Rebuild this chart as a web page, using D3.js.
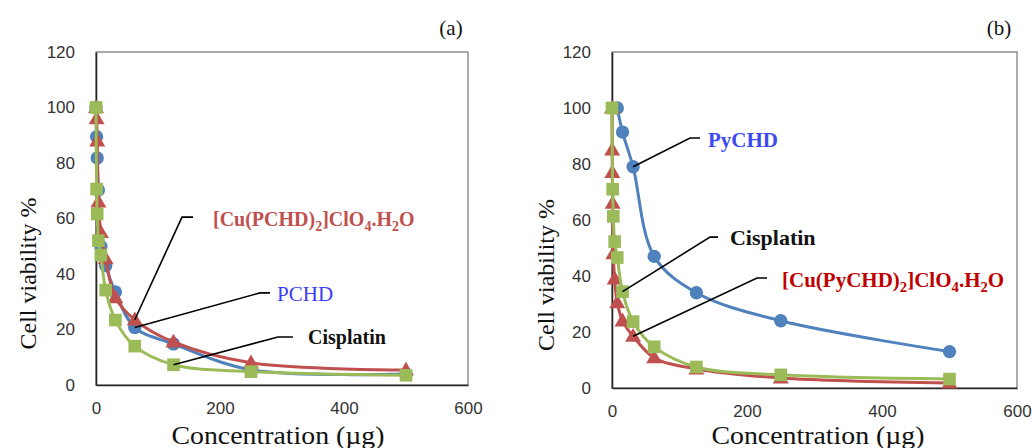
<!DOCTYPE html>
<html>
<head>
<meta charset="utf-8">
<script src="https://cdn.jsdelivr.net/npm/d3@7/dist/d3.min.js"></script>
<style>
  html, body { margin: 0; padding: 0; background: #fff; }
  svg { display: block; }
</style>
</head>
<body>
<svg id="chart" width="1033" height="448"></svg>
<script>
// ---------- DATA ----------
const xTicks = [0, 200, 400, 600];
const yTicks = [0, 20, 40, 60, 80, 100, 120];

// Panel (a)
const concA   = [0, 0.98, 1.95, 3.9, 7.8, 15.6, 31.25, 62.5, 125, 250, 500];
const pchd    = [100, 89.5, 81.8, 70.3, 50, 43, 33.5, 20.7, 14.8, 5.5, 4];
const cuPchd  = [100, 96, 88, 66, 55, 45.5, 31.5, 23.5, 15.5, 8, 5.4];
const cisA    = [100, 70.6, 61.6, 52, 46.8, 34.2, 23.4, 14, 7.3, 4.8, 3.5];

// Panel (b)
const concPy   = [7.8, 15.6, 31.25, 62.5, 125, 250, 500];
const pychd    = [100, 91.4, 79, 47, 34, 24, 13];
const concCuPy = [0, 0.24, 0.49, 0.98, 1.95, 3.9, 7.8, 15.6, 31.25, 62.5, 125, 250, 500];
const cuPy     = [100, 85, 77, 66, 48, 39, 30.5, 24, 18.5, 10.8, 6.8, 3.6, 1.8];
const concB    = [0, 0.98, 1.95, 3.9, 7.8, 15.6, 31.25, 62.5, 125, 250, 500];
const cisB     = [100, 71, 61.3, 52.3, 46.6, 34.4, 23.7, 14.7, 7.5, 4.7, 3.2];

// ---------- STYLE ----------
const BLUE = "#4F81BD", RED = "#C0504D", GREEN = "#9BBB59";
const zip = (xs, ys) => xs.map((x, i) => ({x, y: ys[i]}));

const panels = [
  {
    tag: "(a)", tagX: 451,
    left: 96, right: 468, top: 52, bottom: 385,
    yTitleX: 28, xTitleX: 278,
    series: [
      {data: zip(concA, pchd),   color: BLUE,  marker: "circle"},
      {data: zip(concA, cuPchd), color: RED,   marker: "triangle"},
      {data: zip(concA, cisA),   color: GREEN, marker: "square"}
    ],
    notes: [
      {parts: [["[Cu(PCHD)",0],["2",1],["]ClO",0],["4",1],[".H",0],["2",1],["O",0]],
       color: "#C0504D", bold: true, size: 20,
       anchor: [62.5, cuPchd[7]], elbow: [138.7, 60.5], end: [156.5, 60.5], text: [188.7, 59.8]},
      {parts: [["PCHD",0]], color: "#3c3cf5", bold: false, size: 21,
       anchor: [62.5, pchd[7]], elbow: [264.5, 33.2], end: [280.6, 33.2], text: [292, 32.6]},
      {parts: [["Cisplatin",0]], color: "#111", bold: true, size: 20,
       anchor: [125, cisA[8]], elbow: [293.5, 17.3], end: [317.7, 17.3], text: [342, 17.3]}
    ]
  },
  {
    tag: "(b)", tagX: 999,
    left: 612, right: 1017, top: 52, bottom: 388,
    yTitleX: 546, xTitleX: 818,
    series: [
      {data: zip(concPy, pychd),  color: BLUE,  marker: "circle"},
      {data: zip(concCuPy, cuPy), color: RED,   marker: "triangle"},
      {data: zip(concB, cisB),    color: GREEN, marker: "square"}
    ],
    notes: [
      {parts: [["PyCHD",0]], color: "#3c4cf0", bold: true, size: 21,
       anchor: [31.25, pychd[2]], elbow: [115.6, 89.3], end: [130.4, 89.3], text: [142.2, 88.6]},
      {parts: [["Cisplatin",0]], color: "#111", bold: true, size: 22,
       anchor: [15.6, cisB[5]], elbow: [145.2, 53.9], end: [157, 53.9], text: [174.8, 53.6]},
      {parts: [["[Cu(PyCHD)",0],["2",1],["]ClO",0],["4",1],[".H",0],["2",1],["O",0]],
       color: "#C00000", bold: true, size: 21,
       anchor: [31.25, cuPy[8]], elbow: [214.8, 39.3], end: [229.6, 39.3], text: [251.9, 38.6]}
    ]
  }
];

const svg = d3.select("#chart");
const SERIF = "'Liberation Serif', 'Times New Roman', serif";
const SANS = "'Liberation Sans', Arial, sans-serif";

panels.forEach(p => {
  const x = d3.scaleLinear().domain([0, 600]).range([p.left, p.right]);
  const y = d3.scaleLinear().domain([0, 120]).range([p.bottom, p.top]);
  const g = svg.append("g");

  // frame
  g.append("rect")
    .attr("x", p.left).attr("y", p.top)
    .attr("width", p.right - p.left).attr("height", p.bottom - p.top)
    .attr("fill", "none").attr("stroke", "#7f7f7f").attr("stroke-width", 1.3);

  // axes
  const yAxis = d3.axisLeft(y).tickValues(yTicks).tickSize(0).tickPadding(21);
  const xAxis = d3.axisBottom(x).tickValues(xTicks).tickSize(0).tickPadding(17);
  const ya = g.append("g").attr("transform", `translate(${p.left},0)`).call(yAxis);
  const xa = g.append("g").attr("transform", `translate(0,${p.bottom})`).call(xAxis);
  [ya, xa].forEach(a => {
    a.select(".domain").attr("stroke", "#262626").attr("stroke-width", 1.6);
    a.selectAll("text").attr("font-family", SANS).attr("font-size", 17).attr("fill", "#333");
  });

  // titles
  g.append("text")
    .attr("transform", `translate(${p.yTitleX},${(p.top + p.bottom) / 2 + 55}) rotate(-90)`)
    .attr("text-anchor", "middle").attr("dominant-baseline", "central")
    .attr("font-family", SERIF).attr("font-size", 24).attr("fill", "#111")
    .text("Cell viability %");
  g.append("text")
    .attr("x", p.xTitleX).attr("y", 444)
    .attr("text-anchor", "middle")
    .attr("font-family", SERIF).attr("font-size", 25).attr("fill", "#111")
    .attr("textLength", 213).attr("lengthAdjust", "spacingAndGlyphs")
    .text("Concentration (µg)");
  g.append("text")
    .attr("x", p.tagX).attr("y", 35).attr("text-anchor", "middle")
    .attr("font-family", SERIF).attr("font-size", 21).attr("fill", "#111")
    .text(p.tag);

  // lines
  const line = d3.line().x(d => x(d.x)).y(d => y(d.y)).curve(d3.curveCatmullRom.alpha(0.5));
  p.series.forEach(s => {
    g.append("path").datum(s.data)
      .attr("d", line).attr("fill", "none")
      .attr("stroke", s.color).attr("stroke-width", 3);
    const sym = s.marker === "circle" ? d3.symbolCircle : s.marker === "square" ? d3.symbolSquare : d3.symbolTriangle;
    const area = s.marker === "circle" ? 140 : s.marker === "square" ? 160 : 110;
    g.selectAll(null).data(s.data).enter().append("path")
      .attr("d", d3.symbol().type(sym).size(area))
      .attr("transform", d => `translate(${x(d.x)},${y(d.y) + (s.marker === "triangle" ? 1 : 0)})`)
      .attr("fill", s.color);
  });

  // annotations
  p.notes.forEach(n => {
    g.append("polyline")
      .attr("points", [n.anchor, n.elbow, n.end].map(pt => `${x(pt[0])},${y(pt[1])}`).join(" "))
      .attr("fill", "none").attr("stroke", "#000").attr("stroke-width", 1.6);
    const t = g.append("text")
      .attr("x", x(n.text[0])).attr("y", y(n.text[1]) + n.size * 0.33)
      .attr("font-family", SERIF).attr("font-size", n.size)
      .attr("font-weight", n.bold ? "bold" : "normal").attr("fill", n.color);
    n.parts.forEach(([str, sub]) => {
      const ts = t.append("tspan").text(str);
      if (sub) ts.attr("font-size", n.size * 0.7).attr("dy", n.size * 0.25);
      else ts.attr("dy", 0);
    });
    // reset baseline after each subscript
    let prevSub = false;
    t.selectAll("tspan").each(function(d, i) {
      const sub = n.parts[i][1];
      if (sub) { d3.select(this).attr("dy", n.size * 0.25); }
      else { d3.select(this).attr("dy", prevSub ? -n.size * 0.25 : 0); }
      prevSub = !!sub;
    });
  });
});
</script>
</body>
</html>
